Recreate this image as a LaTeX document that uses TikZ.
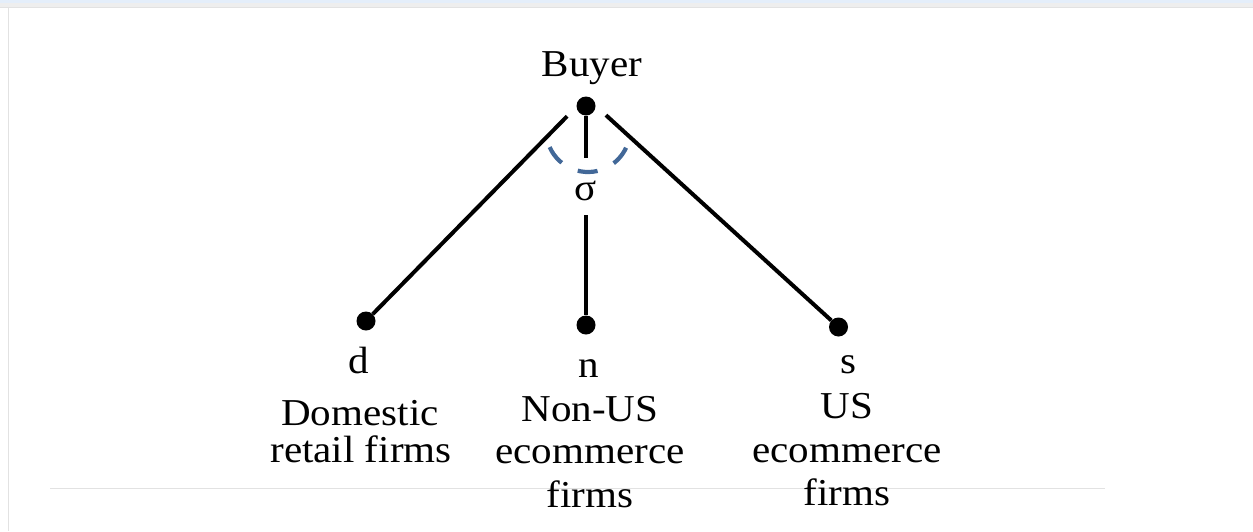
\documentclass[tikz,border=0pt]{standalone}
\usepackage{fontspec}
\setmainfont{Liberation Serif}[FakeStretch=1.08]
\definecolor{arcblue}{RGB}{66,104,152}
\definecolor{topblue}{RGB}{228,238,250}
\definecolor{topgray}{RGB}{238,238,238}
\definecolor{rulegray}{RGB}{226,226,226}
\begin{document}
\begin{tikzpicture}[x=1pt,y=-1pt,
  dot/.style={circle,fill=black,inner sep=0pt,minimum size=19pt},
  txt/.style={anchor=base,inner sep=0pt,font=\fontsize{38}{40}\selectfont},
  edge/.style={line width=4pt,black},
  sigarc/.style={line width=4.2pt,arcblue,dash pattern=on 20pt off 18pt}]
\useasboundingbox (0,0) rectangle (1253,531);
% screenshot frame
\fill[topblue] (0,0) rectangle (1253,3);
\fill[topgray] (0,3) rectangle (1253,7);
\draw[rulegray,line width=1pt] (0,7) -- (1253,7);
\draw[rulegray,line width=1pt] (8,7) -- (8,531);
\draw[rulegray,line width=1pt] (50,488) -- (1105,488);
% nodes
\node[dot] (buyer) at (586,106) {};
\coordinate (apex) at (586,97);
\node[dot] (d) at (366,321) {};
\node[dot] (n) at (586,325) {};
\node[dot] (s) at (838.5,327) {};
\node[txt] (tbuyer) at (592,76) {Buyer};
\node[txt,text height=42pt,text depth=15pt] (sig) at (586,200) {σ};
\coordinate (arcctr) at (588,130);
% connectors
\draw[edge,shorten <=27pt] (apex) -- (d);
\draw[edge,shorten <=27pt] (apex) -- (s);
\draw[edge] (buyer) -- (sig) -- (n);
\draw[sigarc] ([shift={(204:42pt)}]arcctr) arc[start angle=204,end angle=336,radius=42pt];
% labels
\node[txt] (ld) at (359,373) {d};
\node[txt] (ld1) at (360,425) {Domestic};
\node[txt] (ld2) at (361,462) {retail firms};
\node[txt] (ln) at (589,377) {n};
\node[txt] (ln1) at (590,421) {Non-US};
\node[txt] (ln2) at (590,463) {ecommerce};
\node[txt] (ln3) at (590,507) {firms};
\node[txt] (ls) at (848,373) {s};
\node[txt] (ls1) at (847,418) {US};
\node[txt] (ls2) at (847,462) {ecommerce};
\node[txt] (ls3) at (847,505) {firms};
\end{tikzpicture}
\end{document}
